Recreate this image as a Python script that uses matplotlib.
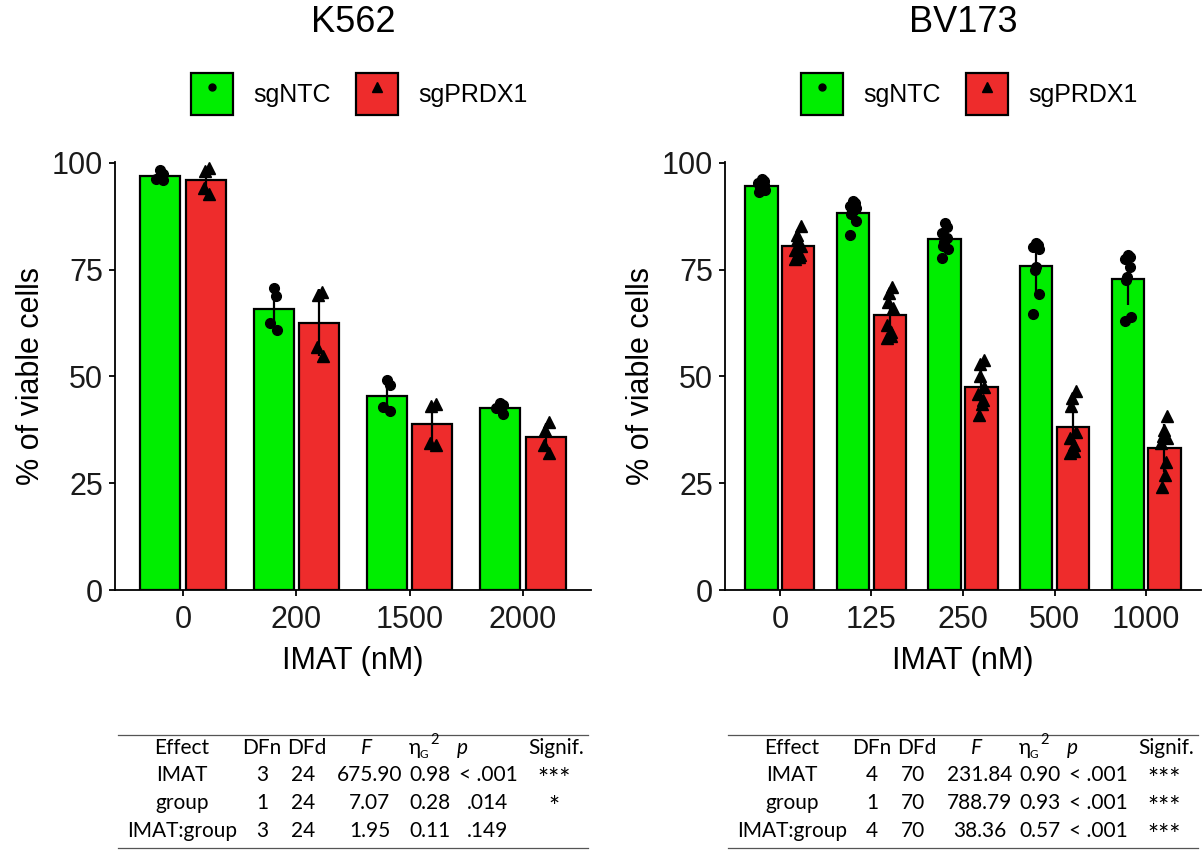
import numpy as np
import matplotlib
matplotlib.use("Agg")
import matplotlib.pyplot as plt
from matplotlib.patches import Patch
from matplotlib.lines import Line2D

# ---------------- data ----------------
k562_doses = ["0", "200", "1500", "2000"]
k562_ntc = [
    [98.3, 97.5, 96.2, 95.9],
    [70.7, 68.9, 62.4, 60.9],
    [49.2, 48.0, 42.9, 41.8],
    [43.8, 43.2, 42.6, 41.2],
]
k562_prdx1 = [
    [98.7, 98.2, 94.0, 92.7],
    [69.8, 69.0, 56.8, 54.8],
    [43.5, 43.0, 34.5, 34.0],
    [39.4, 37.5, 34.0, 32.0],
]

bv173_doses = ["0", "125", "250", "500", "1000"]
bv173_ntc = [
    [96.3, 95.8, 95.2, 94.8, 94.5, 94.0, 93.7, 93.2],
    [91.0, 90.5, 90.0, 89.4, 88.8, 88.0, 86.3, 83.0],
    [86.0, 85.0, 83.5, 82.5, 81.5, 80.5, 79.8, 77.8],
    [81.2, 80.8, 80.3, 79.8, 75.7, 75.0, 69.3, 64.5],
    [78.5, 78.0, 77.5, 75.7, 73.3, 72.5, 63.8, 63.0],
]
bv173_prdx1 = [
    [85.3, 83.0, 82.0, 80.5, 79.5, 78.5, 78.0, 77.5],
    [71.0, 69.5, 67.5, 66.0, 62.0, 60.5, 59.5, 59.0],
    [53.8, 53.0, 50.0, 47.5, 46.0, 44.5, 43.5, 41.0],
    [46.5, 45.0, 43.0, 37.0, 35.5, 34.0, 32.5, 32.0],
    [40.8, 37.5, 36.0, 35.5, 34.5, 30.0, 27.0, 24.2],
]

groups = ["sgNTC", "sgPRDX1"]
titles = ["K562", "BV173"]

table_header = ["Effect", "DFn", "DFd", "F", "ηG2", "p", "Signif."]
tab_effect = ["IMAT", "group", "IMAT:group"]
k562_dfn = ["3", "1", "3"]
k562_dfd = ["24", "24", "24"]
k562_F = ["675.90", "7.07", "1.95"]
k562_ges = ["0.98", "0.28", "0.11"]
k562_p = ["< .001", ".014", ".149"]
k562_sig = ["***", "*", ""]
bv173_dfn = ["4", "1", "4"]
bv173_dfd = ["70", "70", "70"]
bv173_F = ["231.84", "788.79", "38.36"]
bv173_ges = ["0.90", "0.93", "0.57"]
bv173_p = ["< .001", "< .001", "< .001"]
bv173_sig = ["***", "***", "***"]

# ---------------- style ----------------
GREEN = "#00EE00"
RED = "#EE2C2C"
FONT = "Liberation Sans"
TFONT = ["Lato", "DejaVu Sans"]
plt.rcParams["font.family"] = [FONT, "DejaVu Sans"]

W, H = 1204, 850
fig = plt.figure(figsize=(W / 100, H / 100), dpi=100)


def px_ax(x0, x1, ytop, ybot):
    return fig.add_axes([x0 / W, 1 - ybot / H, (x1 - x0) / W, (ybot - ytop) / H])


def draw_panel(ax, doses, ntc, prdx, title, center_x):
    n_d = len(doses)
    x = np.arange(n_d)
    off = 0.2
    bw = 0.355
    for gi, (data, col, mk, ms) in enumerate(
        [(ntc, GREEN, "o", 7), (prdx, RED, "^", 8)]
    ):
        pos = x + (-off if gi == 0 else off)
        means = np.array([np.mean(d) for d in data])
        sds = np.array([np.std(d, ddof=1) for d in data])
        ax.bar(pos, means, width=bw, color=col, edgecolor="black",
               linewidth=1.6, zorder=2)
        ax.errorbar(pos, means, yerr=sds, fmt="none", ecolor="black",
                    elinewidth=1.6, capsize=0, zorder=3)
        for p, d in zip(pos, data):
            n = len(d)
            jit = 0.035 * np.sin(np.arange(n) * 2.4 + gi)
            ax.plot(p + jit, d, linestyle="none", marker=mk, markersize=ms,
                    color="black", zorder=4, clip_on=False)
    ax.set_xlim(-0.6, n_d - 0.4)
    ax.set_ylim(0, 100.2)
    ax.set_yticks([0, 25, 50, 75, 100])
    ax.set_xticks(x)
    ax.set_xticklabels(doses)
    for s in ["top", "right"]:
        ax.spines[s].set_visible(False)
    for s in ["left", "bottom"]:
        ax.spines[s].set_linewidth(1.3)
    ax.tick_params(axis="both", length=4.5, width=1.3, color="black",
                   labelsize=22, labelcolor="#1a1a1a")
    ax.tick_params(axis="x", pad=6)
    ax.tick_params(axis="y", pad=4)
    ax.set_xlabel("IMAT (nM)", fontsize=22, color="black", labelpad=8)
    ax.set_ylabel("% of viable cells", fontsize=22, color="black", labelpad=4)
    fig.text(center_x / W, 1 - 22 / H, title, fontsize=26, ha="center",
             va="center")
    handles = [
        (Patch(facecolor=GREEN, edgecolor="black", linewidth=1.6),
         Line2D([], [], linestyle="none", marker="o", markersize=5,
                color="black")),
        (Patch(facecolor=RED, edgecolor="black", linewidth=1.6),
         Line2D([], [], linestyle="none", marker="^", markersize=7,
                color="black")),
    ]
    fig.legend(handles, groups, loc="center",
               bbox_to_anchor=(center_x / W + 0.005, 1 - 94 / H),
               ncol=2, frameon=False, fontsize=18, handlelength=1.7,
               handleheight=2.2, handletextpad=0.8, columnspacing=1.0)


ax1 = px_ax(115, 591, 162, 590)
draw_panel(ax1, k562_doses, k562_ntc, k562_prdx1, "K562", 353)
ax2 = px_ax(725, 1201, 162, 590)
draw_panel(ax2, bv173_doses, bv173_ntc, bv173_prdx1, "BV173", 963)


def draw_table(x0, effect, dfn, dfd, F, ges, p, sig):
    fs = 15
    col_x = [64, 144, 189, 249, None, 344, 438]
    val_x = [64, 144, 185, 252, 312, 370, 436]
    yh = 748
    rows_y = [775, 803, 831]
    line_kw = dict(color="#555555", linewidth=0.9)
    fig.add_artist(Line2D([(x0) / W, (x0 + 470) / W], [1 - 735 / H] * 2,
                          **line_kw))
    fig.add_artist(Line2D([(x0) / W, (x0 + 470) / W], [1 - 848 / H] * 2,
                          **line_kw))
    for i, h in enumerate(table_header):
        if h == "ηG2":
            fig.text((x0 + 297) / W, 1 - yh / H, "η", fontsize=fs,
                     ha="center", va="center", family=TFONT)
            fig.text((x0 + 306) / W, 1 - (yh + 7) / H, "G", fontsize=8.5,
                     ha="center", va="center", family=TFONT)
            fig.text((x0 + 317) / W, 1 - (yh - 8) / H, "2", fontsize=10.5,
                     ha="center", va="center", family=TFONT)
            continue
        xx = (x0 + col_x[i]) / W
        if h in ("F", "p"):
            fig.text(xx, 1 - yh / H, h, fontsize=fs, ha="center", va="center",
                     family=TFONT, style="italic")
        else:
            fig.text(xx, 1 - yh / H, h, fontsize=fs, ha="center", va="center",
                     family=TFONT)
    cols = [effect, dfn, dfd, F, ges, p, sig]
    for ci, col in enumerate(cols):
        for ri, v in enumerate(col):
            xx = (x0 + val_x[ci]) / W
            if ci == 6:
                fig.text(xx, 1 - (rows_y[ri] + 5) / H, v, fontsize=19,
                         ha="center", va="center", family=TFONT)
            else:
                fig.text(xx, 1 - rows_y[ri] / H, v, fontsize=fs, ha="center",
                         va="center", family=TFONT)


draw_table(118, tab_effect, k562_dfn, k562_dfd, k562_F, k562_ges, k562_p,
           k562_sig)
draw_table(728, tab_effect, bv173_dfn, bv173_dfd, bv173_F, bv173_ges,
           bv173_p, bv173_sig)

fig.savefig("out.png", dpi=100)
